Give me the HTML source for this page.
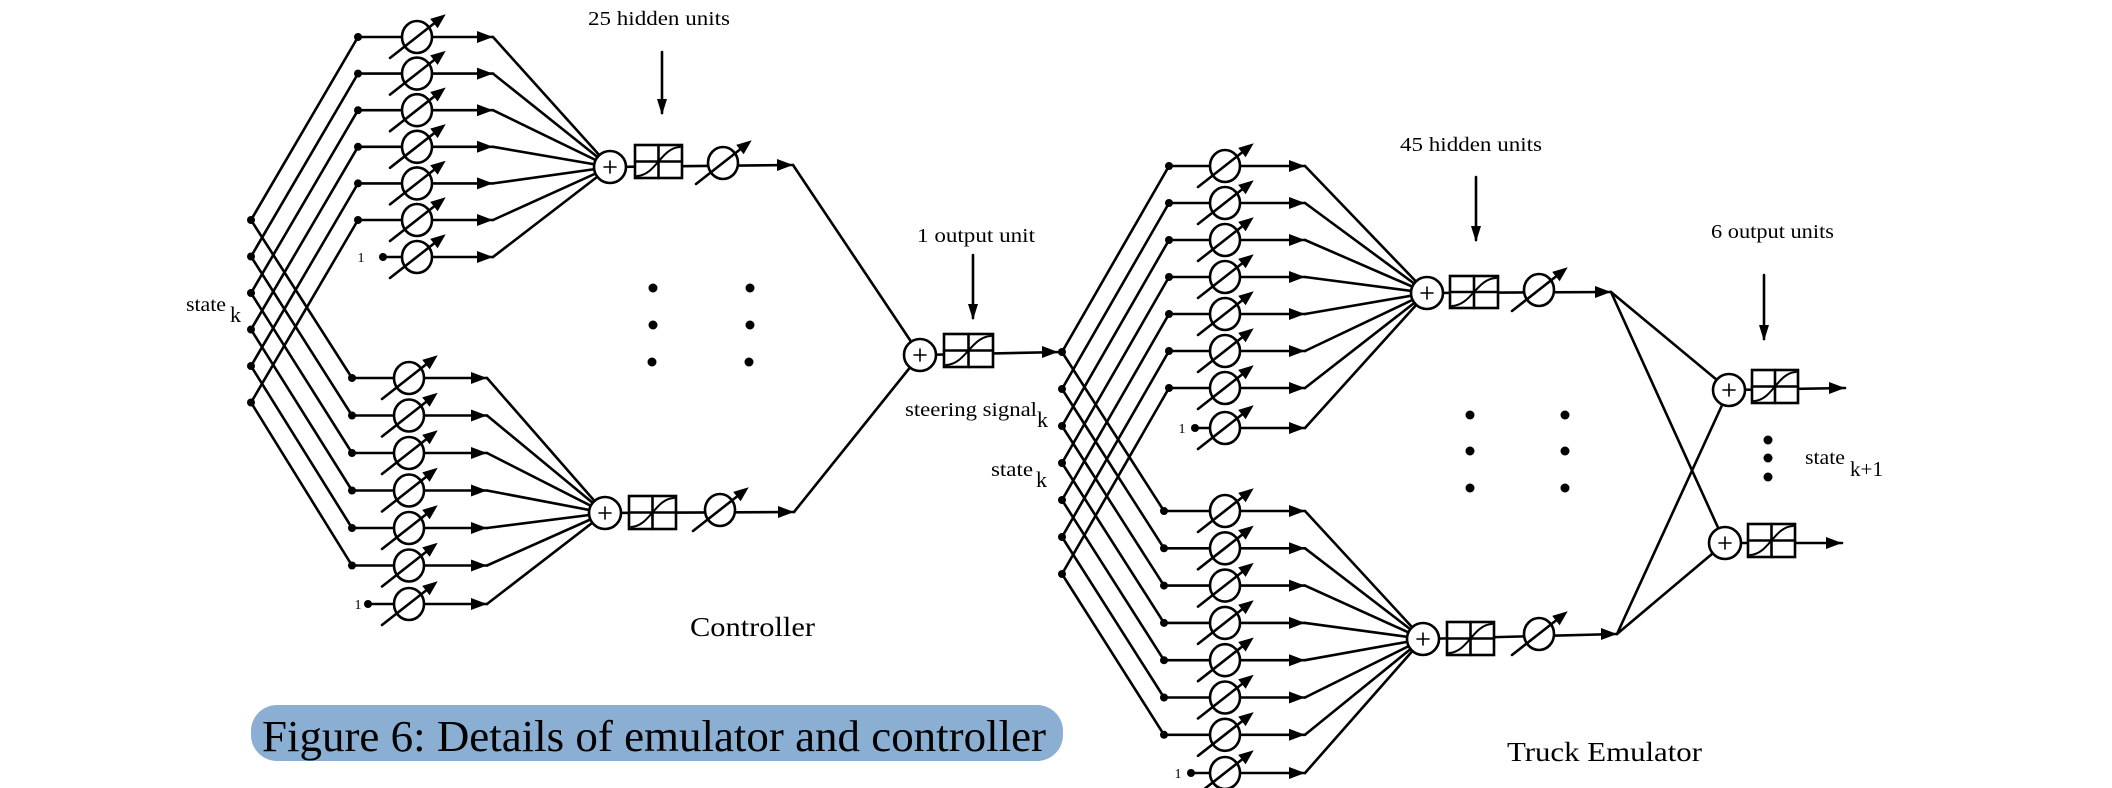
<!DOCTYPE html>
<html><head><meta charset="utf-8"><style>
html,body{margin:0;padding:0;background:#fff;}
svg{display:block;}
text{font-family:"Liberation Serif",serif;fill:#000;}
</style></head><body>
<svg id="s" width="2112" height="788" viewBox="0 0 2112 788" xmlns="http://www.w3.org/2000/svg">
<g id="g" stroke="#000" stroke-width="2.6" fill="none" stroke-linecap="round"></g>
<rect x="251" y="705" width="812" height="56" rx="26" fill="#8aafd3"/>
<text x="262" y="751" font-size="44" textLength="784" lengthAdjust="spacingAndGlyphs">Figure 6: Details of emulator and controller</text>
<text x="588" y="25" font-size="20" textLength="142" lengthAdjust="spacingAndGlyphs">25 hidden units</text>
<text x="917" y="242" font-size="20" textLength="118" lengthAdjust="spacingAndGlyphs">1 output unit</text>
<text x="1400" y="151" font-size="20" textLength="142" lengthAdjust="spacingAndGlyphs">45 hidden units</text>
<text x="1711" y="238" font-size="20" textLength="123" lengthAdjust="spacingAndGlyphs">6 output units</text>
<text x="186" y="311" font-size="20" textLength="40" lengthAdjust="spacingAndGlyphs">state</text><text x="230" y="322" font-size="22">k</text>
<text x="905" y="416" font-size="20" textLength="132" lengthAdjust="spacingAndGlyphs">steering signal</text><text x="1037" y="427" font-size="22">k</text>
<text x="991" y="476" font-size="20" textLength="42" lengthAdjust="spacingAndGlyphs">state</text><text x="1036" y="487" font-size="22">k</text>
<text x="1805" y="464" font-size="20" textLength="40" lengthAdjust="spacingAndGlyphs">state</text><text x="1850" y="476" font-size="21" textLength="33" lengthAdjust="spacingAndGlyphs">k+1</text>
<text x="690" y="636" font-size="27" textLength="125" lengthAdjust="spacingAndGlyphs">Controller</text>
<text x="1507" y="761" font-size="27" textLength="195" lengthAdjust="spacingAndGlyphs">Truck Emulator</text>
<text x="361" y="262" font-size="14" text-anchor="middle">1</text>
<text x="358" y="609" font-size="14" text-anchor="middle">1</text>
<text x="1182" y="433" font-size="14" text-anchor="middle">1</text>
<text x="1178" y="778" font-size="14" text-anchor="middle">1</text>
</svg>
<script>
var g=document.getElementById('g'),NS='http://www.w3.org/2000/svg';
function el(t,a){var e=document.createElementNS(NS,t);for(var k in a)e.setAttribute(k,a[k]);g.appendChild(e);return e;}
function L(x1,y1,x2,y2){el('line',{x1:x1,y1:y1,x2:x2,y2:y2});}
function dot(x,y,r){el('circle',{cx:x,cy:y,r:r||4,fill:'#000',stroke:'none'});}
function ahR(x,y){el('polygon',{points:x+','+y+' '+(x-16)+','+(y-6)+' '+(x-16)+','+(y+6),fill:'#000',stroke:'none'});}
function ahD(x,y){el('polygon',{points:x+','+y+' '+(x-5)+','+(y-16)+' '+(x+5)+','+(y-16),fill:'#000',stroke:'none'});}
function weight(cx,cy){el('ellipse',{cx:cx,cy:cy,rx:15,ry:16,fill:'#fff'});
 var x1=cx-27,y1=cy+21,x2=cx+24,y2=cy-19;L(x1,y1,x2,y2);
 var dx=x2-x1,dy=y2-y1,l=Math.hypot(dx,dy),ux=dx/l,uy=dy/l;
 var tx=x2+ux*6,ty=y2+uy*6;
 el('polygon',{points:tx+','+ty+' '+(tx-ux*15-uy*6)+','+(ty-uy*15+ux*6)+' '+(tx-ux*15+uy*6)+','+(ty-uy*15-ux*6),fill:'#000',stroke:'none'});}
function sum(cx,cy){el('circle',{cx:cx,cy:cy,r:16,fill:'#fff'});
 el('line',{x1:cx-6,y1:cy,x2:cx+6,y2:cy,'stroke-width':1.6});el('line',{x1:cx,y1:cy-6,x2:cx,y2:cy+6,'stroke-width':1.6});}
function box(x,y,w,h){el('rect',{x:x,y:y,width:w,height:h,fill:'#fff'});
 L(x+w/2,y,x+w/2,y+h);L(x,y+h/2,x+w,y+h/2);
 el('path',{d:'M'+(x+2)+','+(y+h-2)+' C'+(x+w*0.45)+','+(y+h-3)+' '+(x+w*0.55)+','+(y+3)+' '+(x+w-2)+','+(y+2),'stroke-width':2});}
function group(dx,ys,oneDot,cx,tip,sx,sy){
 ys.forEach(function(y,i){var x0=(i==ys.length-1)?oneDot:dx;L(x0,y,tip,y);L(tip,y,sx,sy);});
 ys.forEach(function(y,i){var x0=(i==ys.length-1)?oneDot:dx;dot(x0,y);weight(cx,y);ahR(tip,y);});
}
function rng(a,d,n){var r=[];for(var i=0;i<n;i++)r.push(a+d*i);return r;}
var cT=rng(37,36.6,6).concat([257]),cB=rng(378,37.5,6).concat([604]),cs=rng(220,36.5,6);
cs.forEach(function(y,i){L(251,y,358,cT[i]);L(251,y,352,cB[i]);});
group(358,cT,383,417,493,610,167);
group(352,cB,368,409,487,605,513);
cs.forEach(function(y){dot(251,y);});
L(610,167,793,165);L(605,513,794,512);
L(793,165,920,355);L(794,512,920,355);
sum(610,167);box(635,145,47,33);weight(723,163);ahR(793,165);
sum(605,513);box(629,496,47,33);weight(720,510);ahR(794,512);
L(920,355,1062,352);sum(920,355);box(944,334,49,33);ahR(1058,352);
L(662,52,662,113);ahD(662,115);L(973,255,973,318);ahD(973,320);
[[653,288],[653,325],[652,362],[750,288],[750,325],[749,362]].forEach(function(p){dot(p[0],p[1],4.5);});
var tT=rng(166,37,7).concat([428]),tB=rng(511,37.3,7).concat([773]),ts=rng(352,37,7);
ts.forEach(function(y,i){L(1062,y,1169,tT[i]);L(1062,y,1164,tB[i]);});
group(1169,tT,1195,1225,1305,1427,293);
group(1164,tB,1191,1225,1305,1423,639);
ts.forEach(function(y){dot(1062,y);});
L(1427,293,1611,292);L(1423,639,1617,634);
sum(1427,293);box(1450,276,48,32);weight(1539,290);ahR(1611,292);
sum(1423,639);box(1447,622,47,33);weight(1539,634);ahR(1617,634);
L(1611,292,1729,390);L(1611,292,1725,543);L(1617,634,1729,390);L(1617,634,1725,543);
L(1729,390,1845,388);L(1725,543,1842,543);
sum(1729,390);box(1752,370,46,33);ahR(1845,388);
sum(1725,543);box(1748,524,47,33);ahR(1842,543);
L(1476,177,1476,240);ahD(1476,242);L(1764,275,1764,339);ahD(1764,341);
[[1470,415],[1470,451],[1470,488],[1565,415],[1565,451],[1565,488],[1768,440],[1768,458],[1768,477]].forEach(function(p){dot(p[0],p[1],4.5);});
</script>
</body></html>
